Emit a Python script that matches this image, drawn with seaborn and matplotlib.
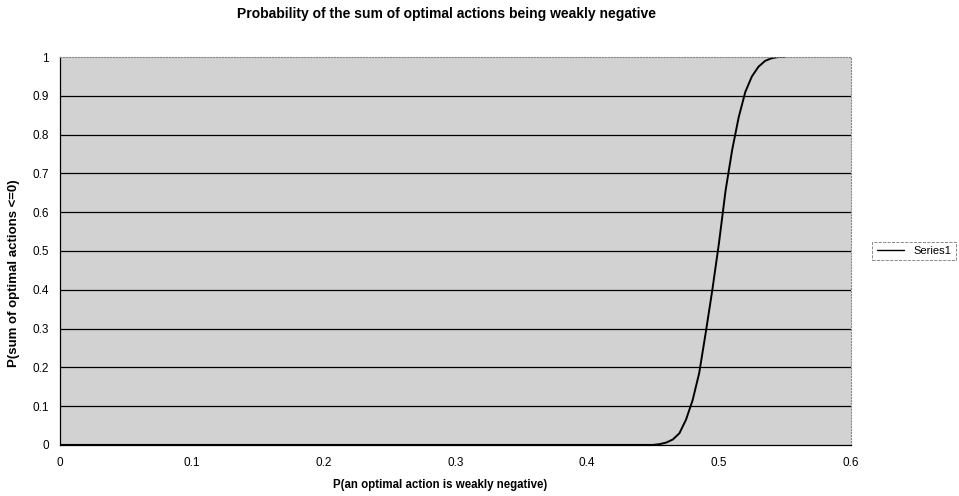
import numpy as np
import pandas as pd
import seaborn as sns
import matplotlib
matplotlib.use('Agg')
import matplotlib.pyplot as plt

# Data
p_single = [0.0, 0.05, 0.1, 0.15, 0.2, 0.25, 0.3, 0.35, 0.4, 0.44, 0.45, 0.455, 0.46, 0.465,
            0.47, 0.475, 0.48, 0.485, 0.49, 0.495, 0.5, 0.505, 0.51, 0.515, 0.52,
            0.525, 0.53, 0.535, 0.54, 0.545, 0.55]
p_sum = [0.0, 0.0, 0.0, 0.0, 0.0, 0.0, 0.0, 0.0, 0.0, 0.0, 0.0, 0.002, 0.006, 0.014,
         0.03, 0.065, 0.115, 0.185, 0.29, 0.4, 0.52, 0.655, 0.76, 0.845, 0.91,
         0.95, 0.975, 0.99, 0.997, 1.0, 1.0]

df = pd.DataFrame({'x': p_single, 'y': p_sum})

sns.set_style('white', {'text.color': 'black', 'axes.labelcolor': 'black',
                        'xtick.color': 'black', 'ytick.color': 'black'})
plt.rcParams['font.family'] = ['Liberation Sans', 'DejaVu Sans']

fig = plt.figure(figsize=(9.59, 4.96), dpi=100)
ax = fig.add_axes([0.0626, 0.103, 0.8245, 0.782])
ax.set_facecolor('#d2d2d2')

sns.lineplot(data=df, x='x', y='y', ax=ax, color='black', linewidth=1.4, label='Series1')

ax.set_xlim(0, 0.6)
ax.set_ylim(0, 1)
ax.set_xticks([0, 0.1, 0.2, 0.3, 0.4, 0.5, 0.6])
ax.set_xticklabels(['0', '0.1', '0.2', '0.3', '0.4', '0.5', '0.6'])
ax.set_yticks(np.arange(0, 1.01, 0.1))
ax.set_yticklabels(['0', '0.1', '0.2', '0.3', '0.4', '0.5', '0.6', '0.7', '0.8', '0.9', '1'])
ax.tick_params(axis='both', labelsize=8.5, length=3, direction='out', color='black',
               labelcolor='black')
ax.tick_params(axis='x', pad=6)
ax.tick_params(axis='y', pad=5)
for y in np.arange(0.1, 0.95, 0.1):
    ax.axhline(y, color='black', linewidth=0.9, zorder=1)

for side in ['top', 'right']:
    ax.spines[side].set_color('#888888')
    ax.spines[side].set_linestyle(':')
    ax.spines[side].set_linewidth(0.8)
ax.spines['left'].set_color('black')
ax.spines['bottom'].set_color('black')
ax.spines['left'].set_linewidth(0.9)
ax.spines['bottom'].set_linewidth(0.9)

ax.set_xlabel('P(an optimal action is weakly negative)', fontsize=8.3, fontweight='bold',
              color='black')
ax.xaxis.set_label_coords(0.481, -0.088)
ax.set_ylabel('P(sum of optimal actions <=0)', fontsize=9.5, fontweight='bold', color='black')
ax.yaxis.set_label_coords(-0.05, 0.443)
fig.suptitle('Probability of the sum of optimal actions being weakly negative',
             fontsize=10, fontweight='bold', x=0.466, y=0.985, color='black')

leg = ax.legend(loc='center left', bbox_to_anchor=(1.02, 0.5), fontsize=8,
                frameon=True, fancybox=False, edgecolor='#555555', handlelength=2.5)
leg.get_frame().set_linewidth(0.6)
leg.get_frame().set_linestyle('--')
leg.get_lines()[0].set_linewidth(1.0)
for t in leg.get_texts():
    t.set_color('black')

fig.savefig('out.png', dpi=100)
